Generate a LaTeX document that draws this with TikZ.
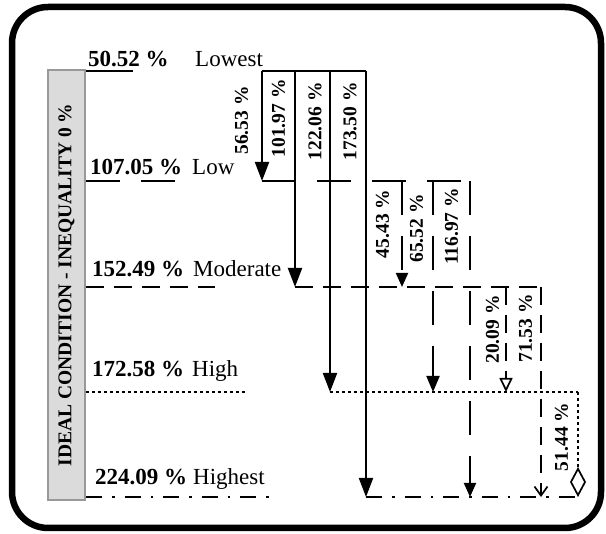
\documentclass[tikz,border=0pt]{standalone}
\usepackage{fontspec}
\setmainfont{Liberation Serif}
\usetikzlibrary{arrows.meta}
\begin{document}
\begin{tikzpicture}[x=1pt,y=-1pt,
 lvl/.style={line width=2pt},
 lowln/.style={lvl,dash pattern=on 34pt off 21pt},
 modln/.style={lvl,dash pattern=on 18pt off 10pt},
 highln/.style={lvl,dash pattern=on 3pt off 3pt},
 topln/.style={lvl,dash pattern=on 16pt off 10pt on 2.5pt off 10pt},
 bigtip/.style={-{Triangle[width=14pt,length=19pt]}},
 midtip/.style={-{Triangle[width=13pt,length=16pt]}},
 smalltip/.style={-{Triangle[width=12pt,length=14pt]}},
 opentip/.style={-{Triangle[open,width=13pt,length=14pt,line width=1.7pt]}},
 barbtip/.style={-{Straight Barb[width=13pt,length=9pt,line width=1.7pt]}},
 diamtip/.style={-{Diamond[open,width=16pt,length=30pt,line width=1.7pt]}},
 lvltxt/.style={inner sep=0pt,anchor=base west,font=\fontsize{23}{26}\selectfont},
 numtxt/.style={inner sep=0pt,anchor=base west,font=\fontsize{23}{26}\selectfont\bfseries},
 vlab/.style={inner sep=0pt,rotate=90,font=\fontsize{19.5}{22}\selectfont\bfseries},
]
\useasboundingbox (0,0) rectangle (606,534);
% frame
\draw[line width=6.5pt,rounded corners=36pt] (12,7) rectangle (601,528);
% gray bar
\node[draw=gray!80,fill=gray!28,line width=1.5pt,minimum width=37pt,minimum height=430pt,inner sep=0pt] (bar) at (66.5,285) {};
\node[rotate=90,inner sep=0pt,font=\fontsize{19.5}{22}\selectfont\bfseries] (bartxt) at (66.5,285) {IDEAL CONDITION - INEQUALITY 0 \%};
% level texts
\node[numtxt] (n1) at (88,67) {50.52 \%};
\node[lvltxt] (t1) at (195,67) {Lowest};
\node[numtxt] (n2) at (90,175) {107.05 \%};
\node[lvltxt] (t2) at (192,175) {Low};
\node[numtxt] (n3) at (92,277) {152.49 \%};
\node[lvltxt] (t3) at (193,277) {Moderate};
\node[numtxt] (n4) at (92,377) {172.58 \%};
\node[lvltxt] (t4) at (192,377) {High};
\node[numtxt] (n5) at (95,485) {224.09 \%};
\node[lvltxt] (t5) at (193,485) {Highest};
% coordinates
\coordinate (A0) at (86,71);  \coordinate (A0e) at (133,71);
\coordinate (A1) at (262,71); \coordinate (A2) at (295,71);
\coordinate (A3) at (330,71); \coordinate (A4) at (366,71);
\coordinate (B0) at (86,181); \coordinate (B0e) at (178,181);
\coordinate (B1) at (262,181); \coordinate (B2) at (402,181);
\coordinate (B3) at (433,181); \coordinate (B4) at (470,181);
\coordinate (C0) at (86,287); \coordinate (C0e) at (215,287);
\coordinate (C1) at (295,287); \coordinate (C2) at (402,287);
\coordinate (C3) at (506,287); \coordinate (C4) at (541,287);
\coordinate (D0) at (86,392); \coordinate (D0e) at (245,392);
\coordinate (D1) at (330,392); \coordinate (D2) at (433,392);
\coordinate (D3) at (506,392); \coordinate (D4) at (578,392);
\coordinate (E0) at (86,497); \coordinate (E0e) at (275,497);
\coordinate (E1) at (366,497); \coordinate (E2) at (470,497);
\coordinate (E3) at (541,497); \coordinate (E4) at (578,497);
% Lowest
\draw[lvl] (A0) -- (A0e);
\draw[lvl] (A1) -- (A4);
\draw[lvl,bigtip] (A1) -- (B1);
\draw[lvl,bigtip] (A2) -- (C1);
\draw[lvl,bigtip] (A3) -- (D1);
\draw[lvl,bigtip] (A4) -- (E1);
% Low
\draw[lowln] (B0) -- (B0e);
\draw[lowln] (B1) -- (B4);
\draw[lowln,smalltip] (B2) -- (C2);
\draw[lowln,midtip] (B3) -- (D2);
\draw[lowln,smalltip] (B4) -- (E2);
% Moderate
\draw[modln] (C0) -- (C0e);
\draw[modln] (C1) -- (C4);
\draw[modln,opentip] (C3) -- (D3);
\draw[modln,barbtip] (C4) -- (E3);
% High
\draw[highln] (D0) -- (D0e);
\draw[highln] (D1) -- (D4);
\draw[highln,diamtip] (D4) -- (E4);
% Highest
\draw[topln] (E0) -- (E0e);
\draw[topln] (E1) -- (E4);
% vertical labels
\node[vlab] (v1) at (241.5,120.5) {56.53 \%};
\node[vlab] (v2) at (278.5,118.5) {101.97 \%};
\node[vlab] (v3) at (315,121.5) {122.06 \%};
\node[vlab] (v4) at (350,121.5) {173.50 \%};
\node[vlab] (v5) at (382.5,224) {45.43 \%};
\node[vlab] (v6) at (416.5,228.5) {65.52 \%};
\node[vlab] (v7) at (451.5,226.5) {116.97 \%};
\node[vlab] (v8) at (492.5,329.5) {20.09 \%};
\node[vlab] (v9) at (525.5,328.5) {71.53 \%};
\node[vlab] (v10) at (561.5,437) {51.44 \%};
\end{tikzpicture}
\end{document}
